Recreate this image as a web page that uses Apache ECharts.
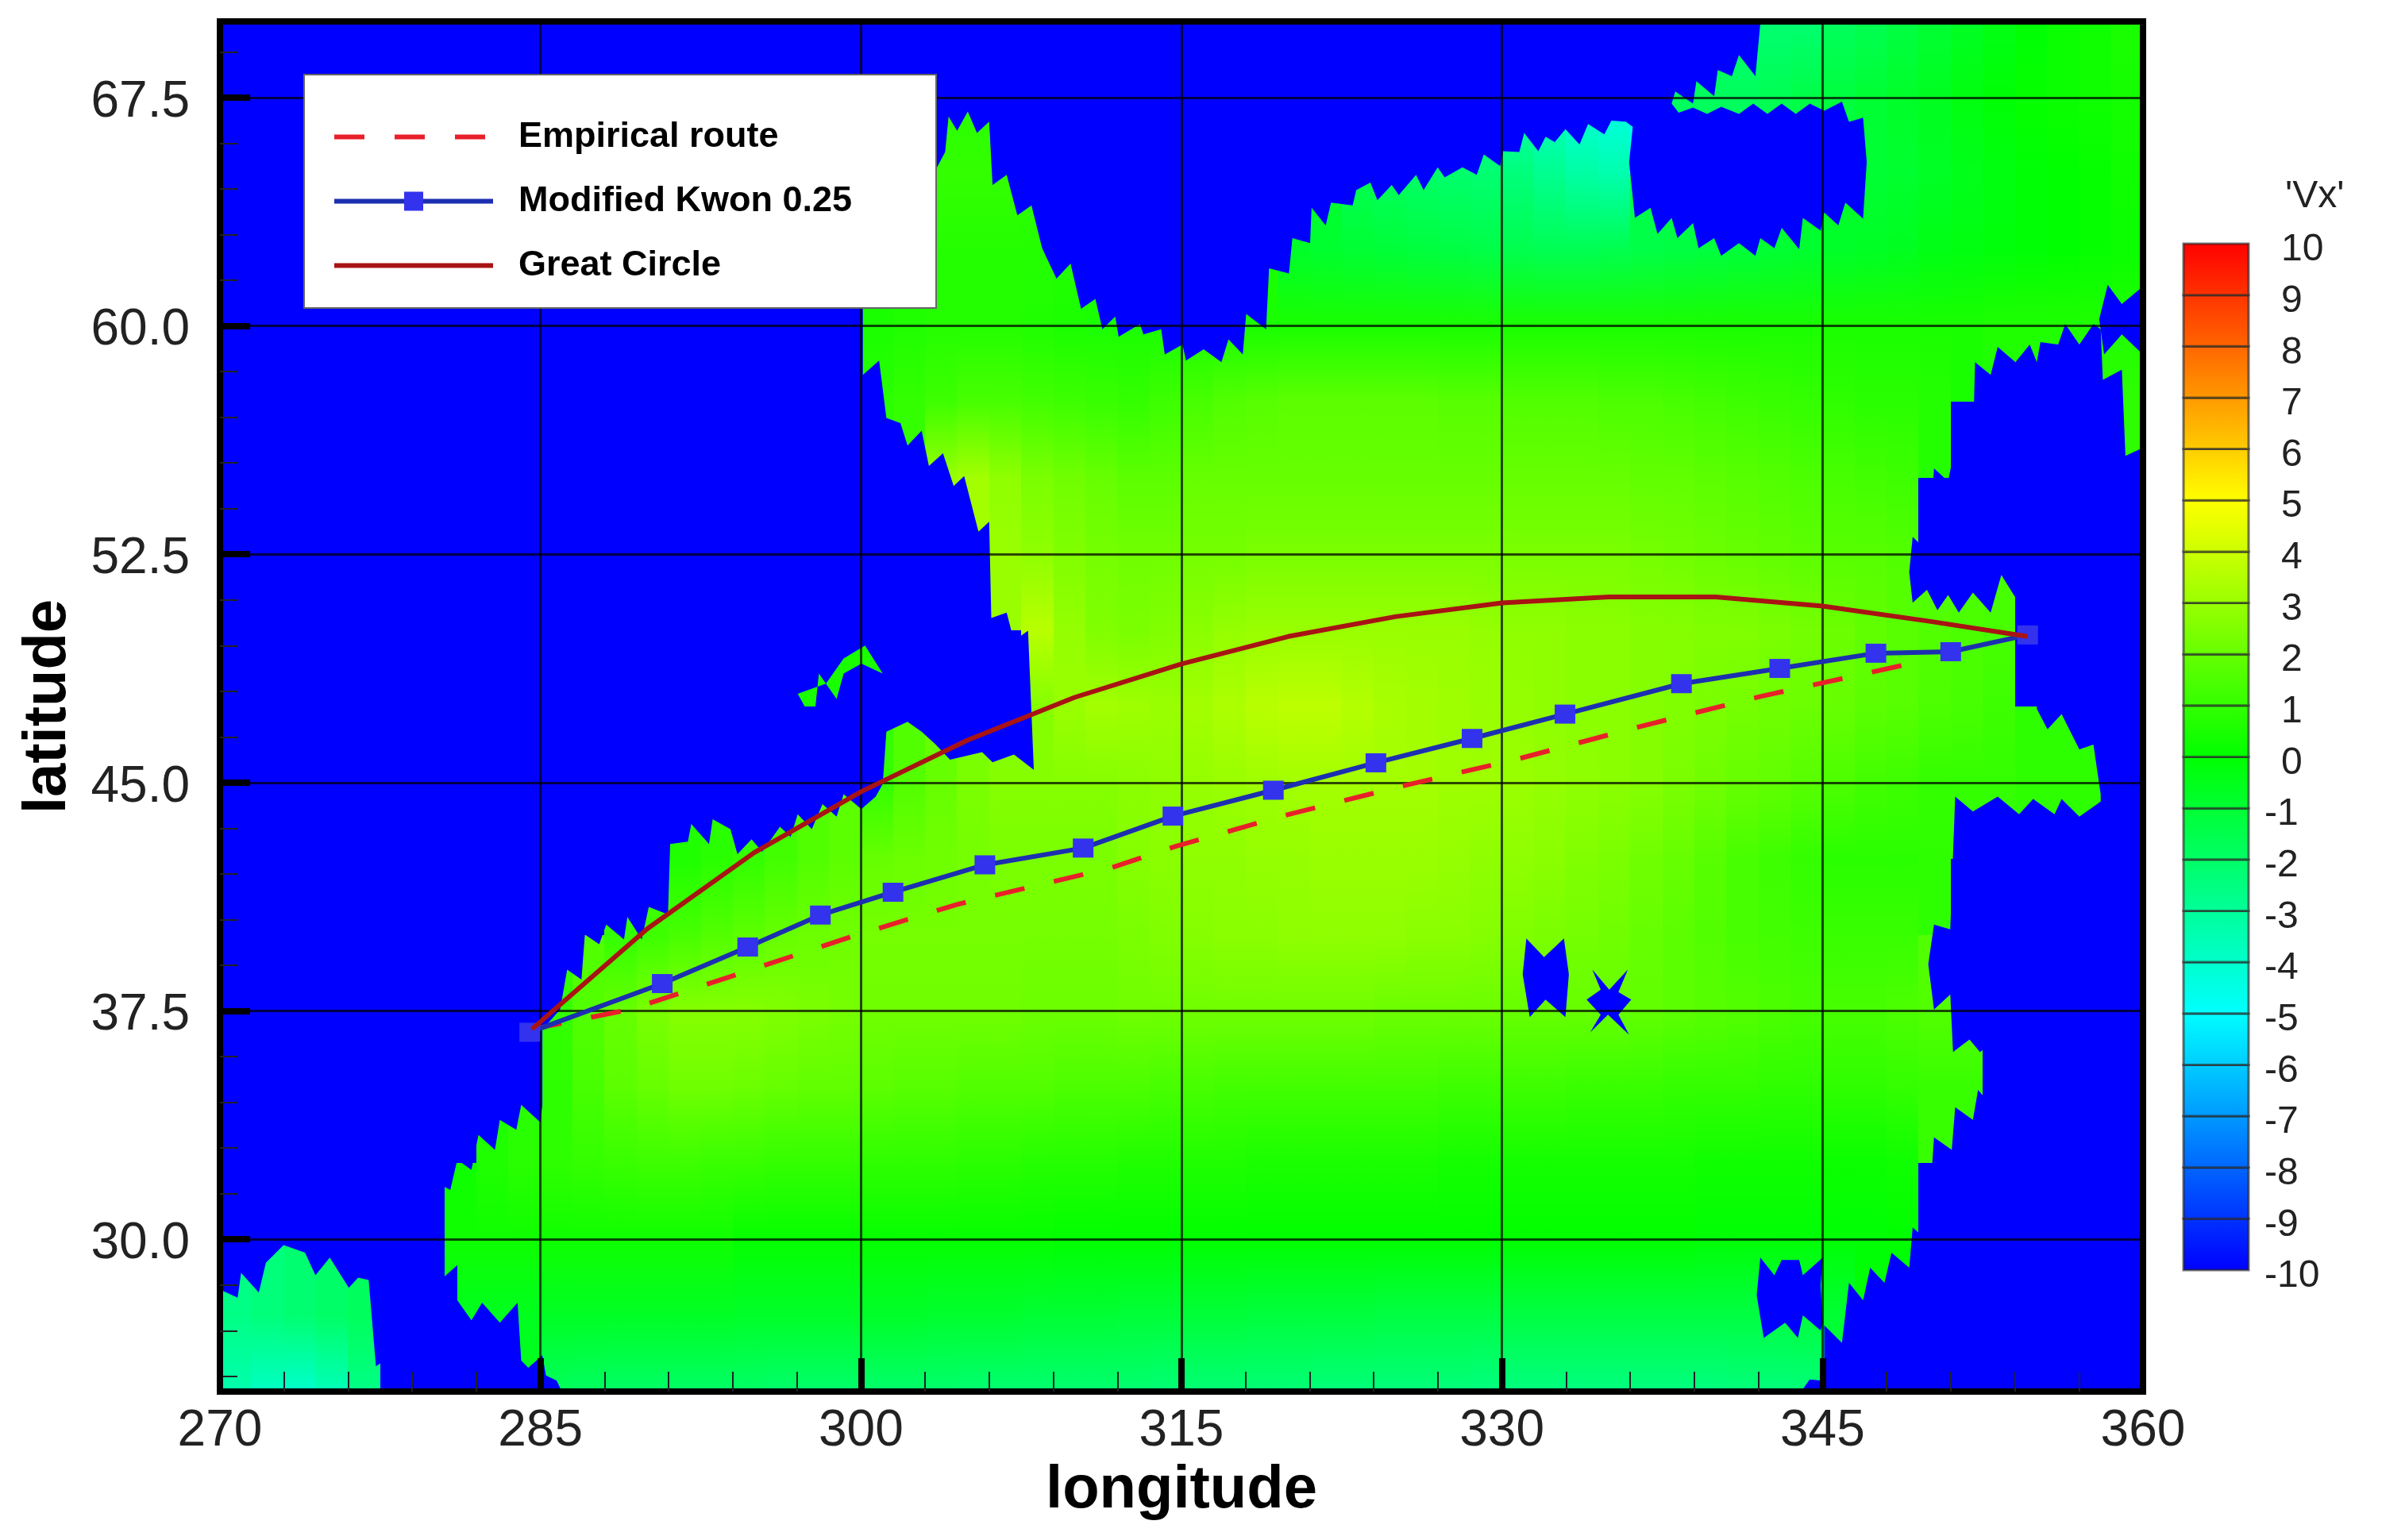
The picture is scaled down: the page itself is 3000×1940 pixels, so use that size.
<!DOCTYPE html>
<html lang="en">
<head>
  <meta charset="UTF-8">
  <title>Vx field and routes</title>
  <script src="https://cdn.jsdelivr.net/npm/echarts@6/dist/echarts.min.js"></script>
  <style>
    body { margin: 0; background: #fff; }
    #main { width: 3000px; height: 1940px; }
  </style>
</head>
<body>

<div id="main"></div>

<script>
  var _ = null; // land, no reading

  var lonTicks = [270, 285, 300, 315, 330, 345, 360];
  var latTicks = [30, 37.5, 45, 52.5, 60, 67.5];
  var latMinorTicks = [25.5, 27, 28.5, 31.5, 33, 34.5, 36, 39, 40.5, 42, 43.5, 46.5, 48, 49.5, 51, 54, 55.5, 57, 58.5, 61.5, 63, 64.5, 66, 69];
  var colorbarLevels = [-10, -9, -8, -7, -6, -5, -4, -3, -2, -1, 0, 1, 2, 3, 4, 5, 6, 7, 8, 9];
  var palette = ['#0000ff', '#00ffff', '#00ff00', '#ffff00', '#ff0000'];

  // routes
  var empiricalLon = [284.6, 289.2, 294.2, 299.5, 304.5, 311.7, 314.7, 319.7, 325.7, 330.6, 336.45, 342.1, 348.6, 350];
  var empiricalLat = [36.9, 37.55, 38.7, 39.93, 41, 42.2, 42.9, 43.9, 44.95, 45.75, 46.84, 47.83, 48.83, 49.1];
  var kwonLon = [284.5, 290.7, 294.7, 298.1, 301.5, 305.8, 310.4, 314.6, 319.3, 324.1, 328.6, 332.95, 338.4, 343, 347.5, 351, 354.6];
  var kwonLat = [36.8, 38.4, 39.6, 40.65, 41.4, 42.3, 42.85, 43.9, 44.75, 45.65, 46.45, 47.25, 48.25, 48.75, 49.25, 49.3, 49.85];
  var greatLon = [284.6, 290, 295, 300, 305, 310, 315, 320, 325, 330, 335, 340, 345, 350, 354.6];
  var greatLat = [36.9, 40.2, 42.7, 44.7, 46.4, 47.8, 48.9, 49.8, 50.45, 50.9, 51.1, 51.1, 50.8, 50.3, 49.8];

  // Vx over water. one row per latitude, one column per 1.5 deg of longitude from 270
  var fieldLats = [70, 67.5, 65, 62.5, 60, 57.5, 55, 52.5, 50, 47.5, 45, 42.5, 40, 37.5, 35, 32.5, 30, 27.5, 25];
  var fieldRows = [
    [_,_,_,_,_,_,_,_,_,_, _,_,_,_,_,_,_,_,_,_, _,_,_,_,_,_,_,_,_,_, _,_,_,_,_,_,_,_,_,_, _,_,_,_,_,_,_,-2.2,-2.2,-2.2, -1.8,-1.6,-1.3,-1,-.7,-.4,-.1,.2,.3,.5],
    [_,_,_,_,_,_,_,_,_,_, _,_,_,_,_,_,_,_,_,_, _,_,.8,.8,.8,_,_,_,_,_, _,_,_,_,_,_,-2.4,-2.4,-2.6,-3, -3.6,-4,-4.4,-4.6,-4.6,-1.8,-1.8,-1.8,-1.6,-1.4, -1.2,-1,-.8,-.6,-.3,-.1,.1,.2,.3,.4],
    [_,_,_,_,_,_,_,_,_,_, _,_,_,_,_,_,_,_,_,_, .8,.9,1,1,1,.9,_,_,_,_, _,_,_,_,_,-1.6,-1.8,-2,-2.1,-2.2, -2.4,-2.8,-3.2,-3.4,_,_,_,_,_,_, _,-1,-.9,-.7,-.5,-.3,-.1,0,.1,.3],
    [_,_,_,_,_,_,_,_,_,_, _,_,_,_,_,_,_,_,_,_, .5,.6,.7,.7,.7,.7,.7,_,_,_, _,_,_,-.8,-.9,-1,-1.1,-1.2,-1.3,-1.4, -1.5,-1.6,-1.6,-1.5,-1.4,-1.3,-1.2,-1.1,-1,-.9, -.8,-.7,-.6,-.4,-.3,-.2,-.1,0,.1,.2],
    [_,_,_,_,_,_,_,_,_,_, _,_,_,_,_,_,_,_,_,_, .5,.6,.7,.7,.7,.6,.5,.5,.5,.5, .5,.5,.5,.5,.5,.5,.5,.5,.5,.5, .5,.5,.5,.5,.5,.5,.5,.5,.5,.5, .5,.5,.5,.5,.5,.6,.6,.6,.6,.6],
    [_,_,_,_,_,_,_,_,_,_, _,_,_,_,_,_,_,_,_,_, .8,1,1.2,1.4,1.4,1.3,1.2,1.1,1,1.2, 1.4,1.6,1.7,1.8,1.8,1.8,1.8,1.8,1.7,1.7, 1.6,1.6,1.6,1.5,1.5,1.4,1.3,1.2,1.1,1, .9,.8,.8,.7,_,_,_,_,.9,.9],
    [_,_,_,_,_,_,_,_,_,_, _,_,_,_,_,_,_,_,_,_, _,_,3,3.2,2.8,2.4,2.2,2,1.8,1.8, 2,2,2,2,2,2,2,2,2,2, 2,2,2,2,1.9,1.9,1.8,1.7,1.6,1.5, 1.4,1.3,1.2,_,_,_,_,_,_,_],
    [_,_,_,_,_,_,_,_,_,_, _,_,_,_,_,_,_,_,_,_, _,_,_,_,3,2.8,2.5,2.3,2.2,2.2, 2.3,2.3,2.4,2.4,2.4,2.4,2.4,2.4,2.4,2.4, 2.4,2.4,2.4,2.4,2.3,2.2,2.1,2,1.9,1.8, 1.7,1.7,1.6,_,_,_,_,_,_,_],
    [_,_,_,_,_,_,_,_,_,_, _,_,_,_,_,_,_,_,_,_, _,_,_,_,_,3.6,2.9,2.5,2.4,2.5, 2.7,2.9,3,3,3,3,3,3,3,2.9, 2.8,2.8,2.7,2.7,2.6,2.6,2.5,2.5,2.4,2.3, 2.1,1.9,1.7,1.6,1.5,1.4,_,_,_,_],
    [_,_,_,_,_,_,_,_,_,_, _,_,_,_,_,_,_,_,_,_, _,_,_,_,_,2.6,3,3.2,3.1,3, 3.2,3.4,3.6,3.7,3.7,3.5,3.3,3.2,3.1,3, 2.9,2.8,2.7,2.7,2.6,2.5,2.4,2.3,2.2,2.1, 2,1.8,1.7,1.5,1.4,1.2,_,_,_,_],
    [_,_,_,_,_,_,_,_,_,_, _,_,_,_,_,_,_,_,_,_, 1,1.6,2,2.4,2.6,2.6,2.6,2.6,2.7,2.8, 2.9,3,3.1,3.2,3.2,3.2,3.2,3.2,3.1,3.1, 3,2.9,2.8,2.7,2.6,2.4,2.2,2,1.9,1.7, 1.5,1.3,1.2,1,1,1,.9,.9,.9,_],
    [_,_,_,_,_,_,_,_,_,_, _,_,_,_,.6,.8,1,1.3,1.6,1.8, 2,2.1,2.2,2.3,2.4,2.4,2.4,2.4,2.6,2.7, 2.8,2.8,2.9,2.9,3,3,3,3,2.9,2.8, 2.8,2.7,2.5,2.4,2.2,2,1.7,1.4,1.2,1, .8,.8,.8,.9,_,_,_,_,_,_],
    [_,_,_,_,_,_,_,_,_,_, _,_,1,1.2,1.4,1.6,1.8,2,2.1,2.2, 2.3,2.3,2.3,2.3,2.3,2.3,2.3,2.3,2.4,2.5, 2.6,2.7,2.7,2.8,2.8,2.8,2.8,2.7,2.7,2.6, 2.5,2.4,2.3,2.2,2,1.8,1.6,1.4,1.3,1.2, 1.1,1.1,1.1,_,_,_,_,_,_,_],
    [_,_,_,_,_,_,_,_,_,_, 1,1.6,2,2.4,2.6,2.6,2.6,2.5,2.4,2.3, 2.2,2.2,2.2,2.2,2.2,2.1,2.1,2.1,2.2,2.2, 2.2,2.2,2.2,2.2,2.2,2.2,2.1,2.1,2.1,2.1, 2,2,2,2,1.9,1.8,1.7,1.6,1.5,1.4, 1.4,1.4,1.5,1.6,1.6,_,_,_,_,_],
    [_,_,_,_,_,_,_,_,_,_, .9,1.4,1.8,2,2.2,2.2,2.1,2,1.9,1.9, 1.8,1.7,1.7,1.6,1.6,1.6,1.5,1.5,1.5,1.4, 1.4,1.3,1.3,1.3,1.3,1.3,1.3,1.3,1.2,1.2, 1.2,1.2,1.1,1.1,1.1,1,1,1,.9,.9, .9,.9,1,1.1,1.1,_,_,_,_,_],
    [_,_,_,_,_,_,_,_,.6,.8, .9,1,1.1,1.2,1.2,1.1,1.1,1,1,1, .9,.9,.9,.8,.8,.7,.7,.7,.6,.6, .6,.6,.5,.5,.5,.5,.5,.5,.4,.4, .4,.4,.4,.4,.4,.4,.3,.3,.3,.3, .2,.2,.3,_,_,_,_,_,_,_],
    [_,_,_,_,_,_,_,.3,.3,.3, .3,.3,.3,.3,.3,.3,.1,.1,.1,.1, .1,.1,.1,.1,.1,.1,0,0,0,0, 0,0,0,0,0,0,0,0,0,0, 0,0,0,0,0,0,-.1,-.1,-.1,-.1, -.1,-.1,0,_,_,_,_,_,_,_],
    [-2.6,-2.4,-2.2,-2,-1.8,_,_,-.6,-.6,-.6, -.7,-.7,-.7,-.7,-.7,-.7,-.8,-.8,-.8,-.8, -.8,-.8,-.9,-.9,-.9,-1,-1,-1,-1.1,-1.1, -1.1,-1.1,-1.2,-1.2,-1.2,-1.2,-1.3,-1.3,-1.3,-1.3, -1.3,-1.3,-1.3,-1.3,-1.3,-1.3,-1.3,-1.3,-1.3,-1.2, -1,_,_,_,_,_,_,_,_,_],
    [-3.4,-3.8,-4,-3.6,-2.6,_,_,_,_,_, -1.8,-1.9,-2,-2,-2,-2,-2,-2.1,-2.1,-2.1, -2.1,-2.1,-2.1,-2.2,-2.2,-2.2,-2.2,-2.2,-2.2,-2.3, -2.3,-2.3,-2.3,-2.3,-2.4,-2.4,-2.4,-2.4,-2.4,-2.5, -2.5,-2.5,-2.5,-2.5,-2.5,-2.5,-2.5,-2.4,-2.4,-2.4, _,_,_,_,_,_,_,_,_,_]
  ];

  // land outlines, lon/lat. everything in here sits at the bottom of the scale, -10
  var landWest = [[270,70],[342.1,70],[341.86,68.2],[341.09,68.9],[340.76,68.2],[340.1,68.4],[339.93,67.54],[339.1,68.04],[338.94,67.3],[338.11,67.7],[337.94,67.3],[338.27,67],[338.94,67.17],[339.6,66.96],[340.26,67.2],[341.09,66.96],[341.76,67.3],[342.42,66.96],[343.09,67.3],[343.75,66.96],[344.41,67.3],[345.08,67.07],[345.91,67.37],[346.24,66.7],[346.9,66.84],[347.07,65.38],[346.9,63.52],[346.07,64.05],[345.74,63.3],[345.08,63.72],[344.91,63.13],[344.08,63.55],[343.91,62.52],[343.09,63.22],[342.75,62.55],[342.09,62.88],[341.86,62.3],[341.09,62.72],[340.26,62.3],[339.93,62.88],[339.2,62.55],[338.94,63.38],[338.21,62.88],[337.94,63.55],[337.28,63.02],[336.95,63.88],[336.22,63.55],[335.95,65.38],[336.12,66.54],[335.79,66.71],[335.12,66.74],[334.79,66.29],[334.03,66.63],[333.63,65.96],[332.97,66.46],[332.47,66.04],[332.04,66.21],[331.7,65.74],[331.04,66.34],[330.81,65.71],[330.05,65.74],[329.91,65.25],[329.15,65.63],[328.82,64.96],[328.15,65.21],[327.32,64.88],[326.99,65.21],[326.33,64.46],[325.98,64.96],[325.17,64.3],[324.84,64.63],[324.17,64.13],[323.84,64.71],[323.18,64.46],[323.01,63.96],[322,64.05],[321.75,63.3],[321.09,63.88],[321.02,62.72],[320.19,62.88],[320.03,61.72],[319.1,61.89],[318.96,59.89],[318.03,60.39],[317.87,59.06],[317.2,59.56],[316.87,58.81],[316.04,59.23],[315.21,58.86],[315.05,59.39],[314.22,59.06],[314.05,59.89],[313.22,59.72],[313.06,60.06],[312.06,59.64],[311.9,60.31],[311.3,59.89],[310.97,60.89],[310.3,60.56],[309.81,62.05],[309.15,61.55],[308.48,62.55],[307.98,63.96],[307.32,63.63],[306.82,64.96],[306.16,64.63],[306,66.71],[305.43,66.34],[305,67.04],[304.5,66.41],[304.1,66.88],[303.94,65.71],[303.5,65.13],[300.09,60.6],[300.09,58.39],[300.85,58.86],[301.19,56.98],[301.85,56.81],[302.18,56.07],[302.84,56.56],[303.18,55.4],[303.84,55.82],[304.34,54.74],[304.83,55.07],[305.5,53.24],[306,53.57],[306.1,50.41],[306.82,50.58],[307.16,49.66],[307.82,49.99],[308.09,45.42],[307.16,45.92],[306.16,45.67],[305.67,46],[304.17,45.75],[303.5,46.25],[302.84,46.67],[302.18,47],[301.19,46.67],[301.02,44.96],[300.69,44.54],[300.02,44.13],[299.19,44.62],[298.86,43.88],[298.2,44.29],[297.7,43.47],[297.04,43.96],[296.71,43.22],[296.21,43.55],[295.38,42.73],[294.88,43.14],[294.22,42.65],[293.89,43.47],[293.06,43.8],[292.89,42.98],[292.06,43.64],[291.9,43.06],[291.07,42.98],[290.97,40.67],[290.07,40.92],[289.74,39.85],[289.07,40.59],[288.91,39.85],[288.08,40.34],[287.75,39.69],[287.08,40.01],[286.92,38.53],[286.25,38.86],[285.92,37.55],[285.09,36.89],[285.09,34.42],[285,33.84],[284.1,34.42],[283.87,33.6],[283.1,33.92],[282.87,32.94],[282.1,33.43],[281.77,32.28],[281.11,32.61],[280.78,31.62],[280.11,31.87],[280.02,29],[280.45,28.74],[281.11,29.15],[281.11,28],[281.77,27.34],[282.27,27.92],[283.1,27.26],[283.93,27.92],[284.1,26.02],[284.43,25.78],[285.09,26.19],[285.26,25.53],[285.76,25.36],[286,25],[277.96,25],[277.89,26.11],[277.3,25.83],[276.96,28.66],[276.47,28.74],[276.03,28.41],[275.14,29.4],[274.47,28.82],[273.98,29.56],[272.98,29.81],[272.15,29.23],[271.82,28.25],[270.99,28.9],[270.83,28.08],[270.16,28.3],[270,28.3]];
  var landEast = [[360,56],[359.18,55.73],[359.01,58.56],[358.12,58.23],[358.02,59.89],[357.68,60.06],[357.02,59.39],[356.36,60.06],[356.03,59.39],[355.2,59.47],[355.03,58.81],[354.7,59.39],[354.03,58.81],[353.2,59.31],[352.87,58.39],[352.14,58.81],[352.04,56.07],[351.21,56.07],[350.88,54.9],[350.22,55.32],[349.95,52.57],[349.22,53.07],[349.06,51.91],[349.22,50.91],[349.89,51.33],[350.38,50.66],[350.88,51.16],[351.38,50.58],[352.04,51.24],[352.87,50.58],[353.37,51.82],[354.03,51.08],[354.7,51.58],[355.03,50.91],[354.13,50.33],[355.2,49.66],[355.03,47.42],[355.53,46.75],[356.19,47.25],[357.02,46.09],[357.68,46.25],[358.02,44.62],[358.02,44.38],[357.02,43.88],[356.19,44.46],[355.86,43.96],[354.86,44.46],[354.2,43.96],[353.2,44.54],[352.04,44.05],[351.21,44.54],[350.98,40.18],[350.22,40.34],[349.95,39.03],[350.22,37.55],[350.98,38.04],[351.11,36.15],[351.88,36.56],[352.37,36.15],[353.04,36.48],[353.04,35.08],[352.87,34.42],[352.28,34.91],[352.04,33.92],[351.21,34.34],[351.05,32.94],[350.22,33.35],[349.89,29.97],[349.22,30.39],[349.06,29.07],[348.23,29.56],[347.9,28.57],[347.23,29.07],[346.9,28],[346.24,28.57],[345.91,26.6],[345.08,27.18],[345.08,25.35],[344.4,25.4],[344,25],[360,25]];
  var landNorthEast = [[358.35,61.35],[359.01,60.72],[360,61.3],[360,59.06],[359.01,59.72],[358.18,59.06],[357.95,60.22]];
  var landSouthIsle = [[342.09,29.4],[342.75,28.82],[343.09,29.32],[343.91,29.32],[344.08,28.82],[345.01,29.4],[344.91,28.49],[345.01,27.26],[344.91,27.01],[344.08,27.5],[343.85,26.76],[343.25,27.26],[342.25,26.76],[341.92,28.16]];
  var landIsleA = [[331.14,39.88],[331.97,39.27],[332.9,39.88],[333.13,38.7],[332.97,37.3],[332.04,37.87],[331.3,37.3],[330.97,38.7]];
  var landIsleB = [[334.23,38.86],[335.02,38.2],[335.89,38.86],[335.45,38.12],[336.05,37.87],[335.45,37.38],[335.95,36.72],[334.96,37.38],[334.13,36.8],[334.62,37.38],[333.96,37.87],[334.62,38.2]];
  // the little patch of water cut off inside the western land
  var waterPatch = [[297.04,47.92],[297.37,47.5],[297.87,47.5],[298.03,48.58],[298.86,47.75],[299.19,48.58],[300.02,48.91],[301.02,48.58],[300.19,49.5],[299.19,49.08],[298.36,48.25],[297.37,48]];
  var waterPatchValue = 0.5;

  var landShapes = [landWest, landEast, landNorthEast, landSouthIsle, landIsleA, landIsleB];
  var fontName = '"Liberation Sans", Arial, sans-serif';

  function zip(xs, ys) {
    return xs.map(function (x, i) { return [x, ys[i]]; });
  }

  function vxColor(v) {
    return echarts.color.lerp((v + 10) / 20, palette);
  }

  function verticalFill(top, bottom) {
    return new echarts.graphic.LinearGradient(0, 0, 0, 1, [
      { offset: 0, color: vxColor(top) },
      { offset: 1, color: vxColor(bottom) }
    ]);
  }

  // one cell per column between two neighbouring rows
  var fieldCells = [];
  fieldRows.forEach(function (row, r) {
    if (r === fieldRows.length - 1) return;
    row.forEach(function (v, c) {
      var below = fieldRows[r + 1][c];
      if (v === _ && below === _) return;
      fieldCells.push([270 + 1.5 * c, fieldLats[r], fieldLats[r + 1], v === _ ? below : v, below === _ ? v : below, 270 + 1.5 * (c + 1)]);
    });
  });

  function renderCell(params, api) {
    var a = api.coord([api.value(0), api.value(1)]);
    var b = api.coord([api.value(5), api.value(2)]);
    var x = Math.round(a[0]), y = Math.round(a[1]);
    return {
      type: 'rect',
      shape: { x: x, y: y, width: Math.round(b[0]) - x, height: Math.round(b[1]) - y },
      style: { fill: verticalFill(api.value(3), api.value(4)) }
    };
  }

  function polygonRenderer(shapes, fill) {
    return function (params, api) {
      return {
        type: 'polygon',
        shape: { points: shapes[params.dataIndex].map(function (p) { return api.coord(p); }) },
        style: { fill: fill }
      };
    };
  }

  function renderColorbarBand(params, api) {
    var lo = api.value(1);
    var a = api.coord([0, lo + 1]);
    var b = api.coord([1, lo]);
    return {
      type: 'rect',
      shape: { x: a[0], y: a[1], width: b[0] - a[0], height: b[1] - a[1] },
      style: { fill: verticalFill(lo + 1, lo), stroke: 'rgba(40,40,40,0.65)', lineWidth: 3 }
    };
  }

  var axisTitle = { fontFamily: fontName, fontSize: 76, fontWeight: 'bold', color: '#000' };
  var frame = { show: true, onZero: false, lineStyle: { color: '#000', width: 8, cap: 'square' } };
  var gridLine = { show: true, lineStyle: { color: 'rgba(0,0,0,0.72)', width: 3 } };
  // top aligned with a short line box, so the digits sit a little under their tick
  var barLabel = { fontFamily: fontName, fontSize: 48, color: '#222', verticalAlign: 'top', lineHeight: 16 };

  echarts.init(document.querySelector('#main')).setOption({
    animation: false,
    backgroundColor: '#fff',
    title: {
      text: "'Vx'",
      left: 2878,
      top: 224,
      padding: 0,
      textStyle: { fontFamily: fontName, fontSize: 48, fontWeight: 'normal', color: '#222' }
    },
    grid: [
      { left: 277, top: 27, width: 2422, height: 1726, show: true, backgroundColor: palette[0], borderWidth: 0 },
      { left: 2750, top: 307, width: 82, height: 1293 }
    ],
    xAxis: [
      {
        type: 'value', min: 270, max: 360, interval: 15, z: 5,
        name: 'longitude', nameLocation: 'middle', nameGap: 69, nameTextStyle: axisTitle,
        axisLine: frame,
        axisTick: { show: true, inside: true, length: 42, lineStyle: { color: '#000', width: 8 } },
        minorTick: { show: true, splitNumber: 5, length: 25, lineStyle: { color: '#222', width: 2 } },
        axisLabel: { show: true, margin: 18, customValues: lonTicks, fontFamily: fontName, fontSize: 64, color: '#222' },
        splitLine: gridLine
      },
      { type: 'value', min: 270, max: 360, position: 'top', z: 5, axisLine: frame, axisTick: { show: false }, axisLabel: { show: false }, splitLine: { show: false } },
      { type: 'value', gridIndex: 1, min: 0, max: 1, show: false }
    ],
    yAxis: [
      {
        type: 'value', min: 25, max: 70, position: 'left', z: 5,
        name: 'latitude', nameLocation: 'middle', nameGap: 178, nameTextStyle: axisTitle,
        axisLine: frame,
        axisTick: { show: true, inside: true, length: 38, customValues: latTicks, lineStyle: { color: '#000', width: 8 } },
        axisLabel: {
          show: true, margin: 38, customValues: latTicks,
          fontFamily: fontName, fontSize: 64, color: '#222', verticalAlign: 'top', lineHeight: 12,
          formatter: function (v) { return v.toFixed(1); }
        },
        splitLine: gridLine
      },
      {
        type: 'value', min: 25, max: 70, position: 'left', z: 5,
        axisLine: { show: false },
        axisTick: { show: true, inside: true, length: 22, customValues: latMinorTicks, lineStyle: { color: '#222', width: 2 } },
        axisLabel: { show: false },
        splitLine: { show: false }
      },
      { type: 'value', min: 25, max: 70, position: 'right', z: 5, axisLine: frame, axisTick: { show: false }, axisLabel: { show: false }, splitLine: { show: false } },
      {
        type: 'value', gridIndex: 1, min: -10, max: 10, interval: 1, position: 'right',
        axisLine: { show: false }, axisTick: { show: false }, splitLine: { show: false },
        axisLabel: Object.assign({ margin: 41, formatter: function (v) { return v >= 0 ? String(v) : ''; } }, barLabel)
      },
      {
        type: 'value', gridIndex: 1, min: -10, max: 10, interval: 1, position: 'right',
        axisLine: { show: false }, axisTick: { show: false }, splitLine: { show: false },
        axisLabel: Object.assign({ margin: 20, formatter: function (v) { return v < 0 ? String(v) : ''; } }, barLabel)
      }
    ],
    legend: {
      left: 383,
      top: 94,
      orient: 'vertical',
      align: 'left',
      z: 20,
      padding: [56, 106, 31, 35],
      itemGap: 36,
      itemWidth: 200,
      itemHeight: 30,
      backgroundColor: '#fff',
      borderColor: '#666',
      borderWidth: 2,
      lineStyle: { width: 6 },
      textStyle: { fontFamily: fontName, fontSize: 45, fontWeight: 'bold', color: '#000', padding: [0, 0, 0, 27] },
      data: [
        { name: 'Empirical route', itemStyle: { opacity: 0 } },
        { name: 'Modified Kwon 0.25' },
        { name: 'Great Circle', itemStyle: { opacity: 0 } }
      ]
    },
    series: [
      {
        type: 'custom', name: 'Vx', z: 1, silent: true, clip: true, progressive: 0,
        xAxisIndex: 0, yAxisIndex: 0, coordinateSystem: 'cartesian2d',
        encode: { x: 0, y: 1 },
        renderItem: renderCell,
        data: fieldCells
      },
      {
        type: 'custom', name: 'land', z: 2, silent: true, clip: true,
        xAxisIndex: 0, yAxisIndex: 0,
        renderItem: polygonRenderer(landShapes, palette[0]),
        data: landShapes.map(function (s) { return s[0]; })
      },
      {
        type: 'custom', name: 'water patch', z: 3, silent: true, clip: true,
        xAxisIndex: 0, yAxisIndex: 0,
        renderItem: polygonRenderer([waterPatch], vxColor(waterPatchValue)),
        data: [waterPatch[0]]
      },
      {
        type: 'line', name: 'Empirical route', z: 10, xAxisIndex: 0, yAxisIndex: 0,
        symbol: 'none', silent: true,
        lineStyle: { color: '#e8202a', width: 6, type: [38, 38] },
        itemStyle: { color: '#e8202a' },
        data: zip(empiricalLon, empiricalLat)
      },
      {
        type: 'line', name: 'Modified Kwon 0.25', z: 11, xAxisIndex: 0, yAxisIndex: 0,
        symbol: 'rect', symbolSize: [26, 24], silent: true,
        lineStyle: { color: '#1c2fb0', width: 6 },
        itemStyle: { color: '#3333ee' },
        data: zip(kwonLon, kwonLat)
      },
      {
        type: 'line', name: 'Great Circle', z: 12, xAxisIndex: 0, yAxisIndex: 0,
        symbol: 'none', silent: true,
        lineStyle: { color: '#a81414', width: 6 },
        itemStyle: { color: '#a81414' },
        data: zip(greatLon, greatLat)
      },
      {
        type: 'custom', name: 'colorbar', silent: true,
        xAxisIndex: 2, yAxisIndex: 3,
        encode: { y: 1 },
        renderItem: renderColorbarBand,
        data: colorbarLevels.map(function (lvl) { return [0, lvl]; })
      }
    ]
  });
</script>
</body>
</html>
